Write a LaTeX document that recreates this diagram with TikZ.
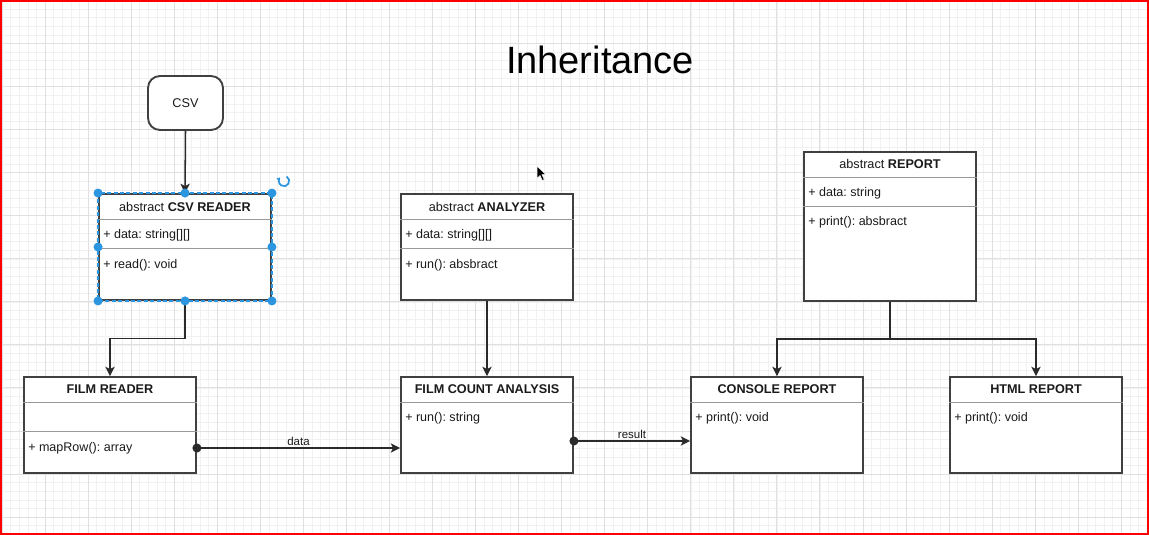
\documentclass[tikz,border=0pt]{standalone}
\usepackage{fontspec}
\setmainfont{Liberation Sans}
\usetikzlibrary{arrows.meta,calc}
\frenchspacing
\definecolor{gridmaj}{HTML}{E0E0E0}
\definecolor{gridmin}{HTML}{F1F1F1}
\definecolor{boxline}{HTML}{404040}
\definecolor{sepline}{HTML}{999999}
\definecolor{wire}{HTML}{2A2A2A}
\definecolor{selblue}{HTML}{2C95E0}
\definecolor{txt}{HTML}{1A1A1A}
\tikzset{
  gridminor/.style={draw=gridmin, line width=0.45pt},
  gridmajor/.style={draw=gridmaj, line width=0.7pt},
  classbox/.style={draw=boxline, line width=1.4pt, fill=white, inner sep=0pt,
    minimum width=129pt},
  sepln/.style={draw=sepline, line width=0.7pt},
  headtxt/.style={text=txt, font=\fontsize{9.5}{11}\selectfont, inner sep=0pt},
  memtxt/.style={text=txt, font=\fontsize{9.4}{11}\selectfont, inner sep=0pt, anchor=west},
  lbltxt/.style={text=txt, font=\fontsize{8.6}{10}\selectfont, inner sep=1.5pt},
  conn/.style={draw=wire, line width=1.15pt, -{Stealth[length=7pt,width=7pt,inset=1.8pt]}},
  handle/.style={fill=selblue},
}
\begin{document}
\begin{tikzpicture}[x=0.75pt,y=-0.75pt]
\useasboundingbox (0,0) rectangle (1149,535);
\fill[white] (0,0) rectangle (1149,535);
% grid
\foreach \i in {0,...,133} {\pgfmathsetmacro\gx{2+8.61*\i}\draw[gridminor] (\gx,0) -- (\gx,535);}
\foreach \i in {0,...,62} {\pgfmathsetmacro\gy{0.5+8.61*\i}\draw[gridminor] (0,\gy) -- (1149,\gy);}
\foreach \i in {0,...,26} {\pgfmathsetmacro\gx{2+43.05*\i}\draw[gridmajor] (\gx,0) -- (\gx,535);}
\foreach \i in {0,...,12} {\pgfmathsetmacro\gy{0.5+43.05*\i}\draw[gridmajor] (0,\gy) -- (1149,\gy);}

% title
\node[text=black, font=\fontsize{28.5}{34}\selectfont, inner sep=0pt] (title) at (600,60) {Inheritance};

% CSV source
\node[draw=boxline, line width=1.4pt, fill=white, rounded corners=9pt,
  minimum width=56.25pt, minimum height=40.5pt, inner sep=0pt,
  text=txt, font=\fontsize{9.5}{11}\selectfont] (csv) at (185.5,103) {CSV};

% class boxes
\node[classbox, minimum height=79.5pt] (csvr) at (185,247) {};
\node[classbox, minimum height=79.5pt] (anl) at (487,247) {};
\node[classbox, minimum height=111.75pt] (rep) at (890,226.5) {};
\node[classbox, minimum height=72pt] (film) at (110,425) {};
\node[classbox, minimum height=72pt] (fca) at (487,425) {};
\node[classbox, minimum height=72pt] (con) at (777,425) {};
\node[classbox, minimum height=72pt] (html) at (1036,425) {};

% separators
\foreach \b in {csvr,anl,rep,film} {
  \draw[sepln] ([yshift=-19.5pt]\b.north west) -- ([yshift=-19.5pt]\b.north east);
  \draw[sepln] ([yshift=-41.25pt]\b.north west) -- ([yshift=-41.25pt]\b.north east);
}
\foreach \b in {fca,con,html} {
  \draw[sepln] ([yshift=-19.5pt]\b.north west) -- ([yshift=-19.5pt]\b.north east);
}

% headers
\node[headtxt] (csvr-h) at (185,207) {abstract \textbf{CSV READER}};
\node[headtxt] (anl-h) at (487,207) {abstract \textbf{ANALYZER}};
\node[headtxt] (rep-h) at (890,164) {abstract \textbf{REPORT}};
\node[headtxt] (film-h) at (110,389) {\textbf{FILM READER}};
\node[headtxt] (fca-h) at (487,389) {\textbf{FILM COUNT ANALYSIS}};
\node[headtxt] (con-h) at (777,389) {\textbf{CONSOLE REPORT}};
\node[headtxt] (html-h) at (1036,389) {\textbf{HTML REPORT}};

% members
\node[memtxt] (csvr-a) at (103,235) {+ data: string[][]};
\node[memtxt] (csvr-m) at (103,265) {+ read(): void};
\node[memtxt] (anl-a) at (405,235) {+ data: string[][]};
\node[memtxt] (anl-m) at (405,265) {+ run(): absbract};
\node[memtxt] (rep-a) at (808,193) {+ data: string};
\node[memtxt] (rep-m) at (808,222) {+ print(): absbract};
\node[memtxt] (film-m) at (28,448) {+ mapRow(): array};
\node[memtxt] (fca-m) at (405,418) {+ run(): string};
\node[memtxt] (con-m) at (695,418) {+ print(): void};
\node[memtxt] (html-m) at (954,418) {+ print(): void};

% connectors
\draw[conn] (csv.south) -- (csvr.north);
\coordinate (cre) at ($(csvr.south)!0.5!(csvr.south |- film.north)$);
\draw[conn] (csvr.south) -- (cre) -| (film.north);
\draw[conn] (anl.south) -- (fca.north);
\coordinate (rs) at ($(rep.south)!0.5!(rep.south |- con.north)$);
\draw[conn] (rep.south) -- (rs) -| (con.north);
\draw[conn] (rs) -| (html.north);

\coordinate (fd) at ([yshift=-17.25pt]film.east);
\draw[conn] (fd) -- (fd -| fca.west) node[lbltxt, midway, above] (dlab) {data};
\fill[wire] (fd) circle (3.4pt);
\coordinate (fr) at ([yshift=-12pt]fca.east);
\draw[conn] (fr) -- (fr -| con.west) node[lbltxt, midway, above] (rlab) {result};
\fill[wire] (fr) circle (3.4pt);

% selection of CSV READER
\draw[selblue, line width=1pt, dash pattern=on 3pt off 1.8pt] (csvr.north west) rectangle (csvr.south east);
\foreach \a in {north west,north,north east,west,east,south west,south,south east}
  \fill[handle] (csvr.\a) circle (3.4pt);
% rotation handle
\draw[selblue, line width=1.3pt, -{Latex[length=2.6pt,width=3.2pt]}] (284,181) ++(-60:5.2) arc[start angle=-60, end angle=225, radius=5.2];

% mouse pointer
\filldraw[fill=black, draw=white, line width=0.4pt] (537,166) -- (537,178.5) -- (540,175.5) -- (542.3,180.5) -- (544.3,179.6) -- (542,174.7) -- (546,174.7) -- cycle;

% screen frame
\draw[red, line width=1.6pt] (0.9,0.9) rectangle (1148.1,534.1);
\end{tikzpicture}
\end{document}
